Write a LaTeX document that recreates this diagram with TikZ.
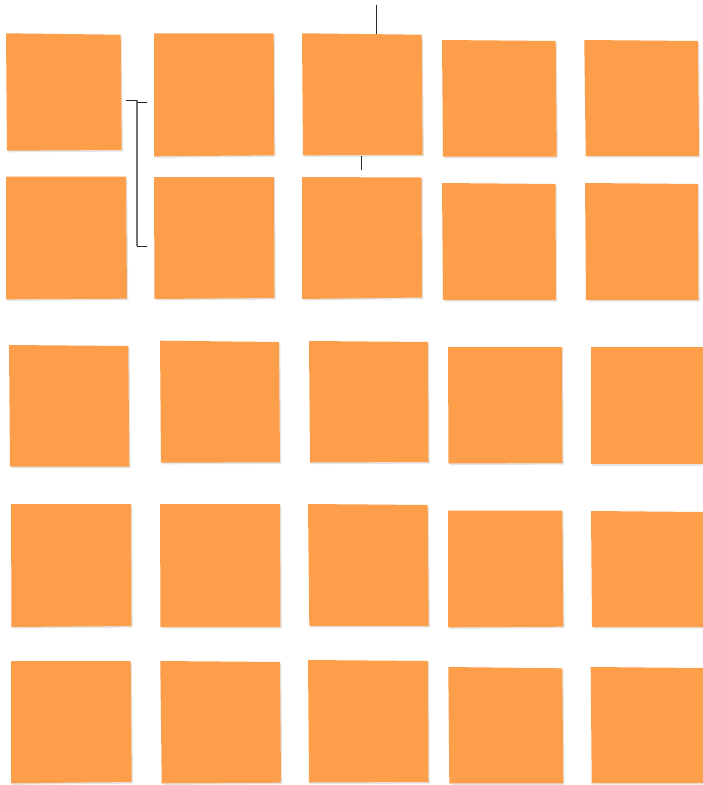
\documentclass[tikz,border=0pt]{standalone}
\usetikzlibrary{calc}
\definecolor{noteorange}{RGB}{253,158,75}
\definecolor{lineclr}{RGB}{40,40,40}
\tikzset{
  note/.style={fill=noteorange},
  notesh/.style={fill=black,opacity=0.10},
  conn/.style={draw=lineclr,line width=1pt},
  connv/.style={draw=black!55,line width=1.3pt}
}
\newcommand\stickynote[5]{%
  \begin{scope}[shift={(1.3,1.6)}]
    \fill[notesh] (#2) -- (#3) -- (#4) -- (#5) -- cycle;
  \end{scope}
  \fill[note] (#2) -- (#3) -- (#4) -- (#5) -- cycle;
  \coordinate (#1) at ($(#2)!0.5!(#4)$);
}
\begin{document}
\begin{tikzpicture}[x=1pt,y=-1pt]
\useasboundingbox (0,0) rectangle (702,785);
% row 1
\stickynote{a1}{6,33.3}{120.7,34.7}{121.7,150}{7,150.7}
\stickynote{b1}{154,33.3}{273.7,33.3}{274.3,155.3}{154,156.3}
\stickynote{c1}{302,33.3}{421.7,34.7}{422.7,155}{303,155.3}
\stickynote{d1}{442,40}{555.7,41}{556.7,156.7}{443,156.7}
\stickynote{e1}{584.3,40}{698,41}{699,156}{585.7,156}
% row 2
\stickynote{a2}{6,176.7}{126,176.7}{127,298.7}{6,299.3}
\stickynote{b2}{154,177}{274,177}{274.5,298}{154.5,299}
\stickynote{c2}{302,177}{421.5,177.5}{422,297.5}{302,299}
\stickynote{d2}{442,183}{555.5,184}{556,300}{443,300}
\stickynote{e2}{585,183}{698,184}{698.5,300}{586,300}
% row 3
\stickynote{a3}{9,345}{128.3,346}{129.3,466.7}{10,466.7}
\stickynote{b3}{160,340.7}{279,342}{280,462.3}{161,462.7}
\stickynote{c3}{309,341}{428,342}{428.5,462}{310,462.5}
\stickynote{d3}{448,347}{562,347}{562.5,463}{448.5,463.5}
\stickynote{e3}{591,347}{703,347}{703,464}{591,464}
% row 4
\stickynote{a4}{11,504}{131,504}{131.5,626}{11.5,627}
\stickynote{b4}{160,504}{280,504}{280.5,627}{160.5,627}
\stickynote{c4}{308,504}{427.7,505}{428.7,626}{309.3,626}
\stickynote{d4}{448,510.7}{562.3,510.7}{563.3,626.7}{448,627.3}
\stickynote{e4}{591,511}{703,512}{703,627}{592,627}
% row 5
\stickynote{a5}{11,661}{130.7,661}{131.7,782}{11,783.3}
\stickynote{b5}{160.3,661}{280,662}{281,782.7}{161.7,783.3}
\stickynote{c5}{308,660}{428,661}{428.5,782}{309,782.5}
\stickynote{d5}{448.3,667}{562.3,668.3}{563.3,783.3}{449.3,783.3}
\stickynote{e5}{590.7,667}{703,668}{703,783}{591.7,783}
% connectors
\coordinate (bs) at (126,100);
\coordinate (bj) at (137,100);
\coordinate (bt0) at (137,102);
\coordinate (bt1) at (147,102);
\coordinate (bb0) at (137,246);
\coordinate (bb1) at (147,246);
\draw[connv] (bj) -- (bb0);
\draw[conn] (bs) -- (bj);
\draw[conn] (bt0) -- (bt1);
\draw[conn] (bb0) -- (bb1);
\coordinate (tl0) at (376.5,5);
\coordinate (tl1) at (376.5,34);
\draw[conn] (tl0) -- (tl1);
\coordinate (ts0) at (361.3,155.5);
\coordinate (ts1) at (361.3,170);
\draw[conn] (ts0) -- (ts1);
\end{tikzpicture}
\end{document}
